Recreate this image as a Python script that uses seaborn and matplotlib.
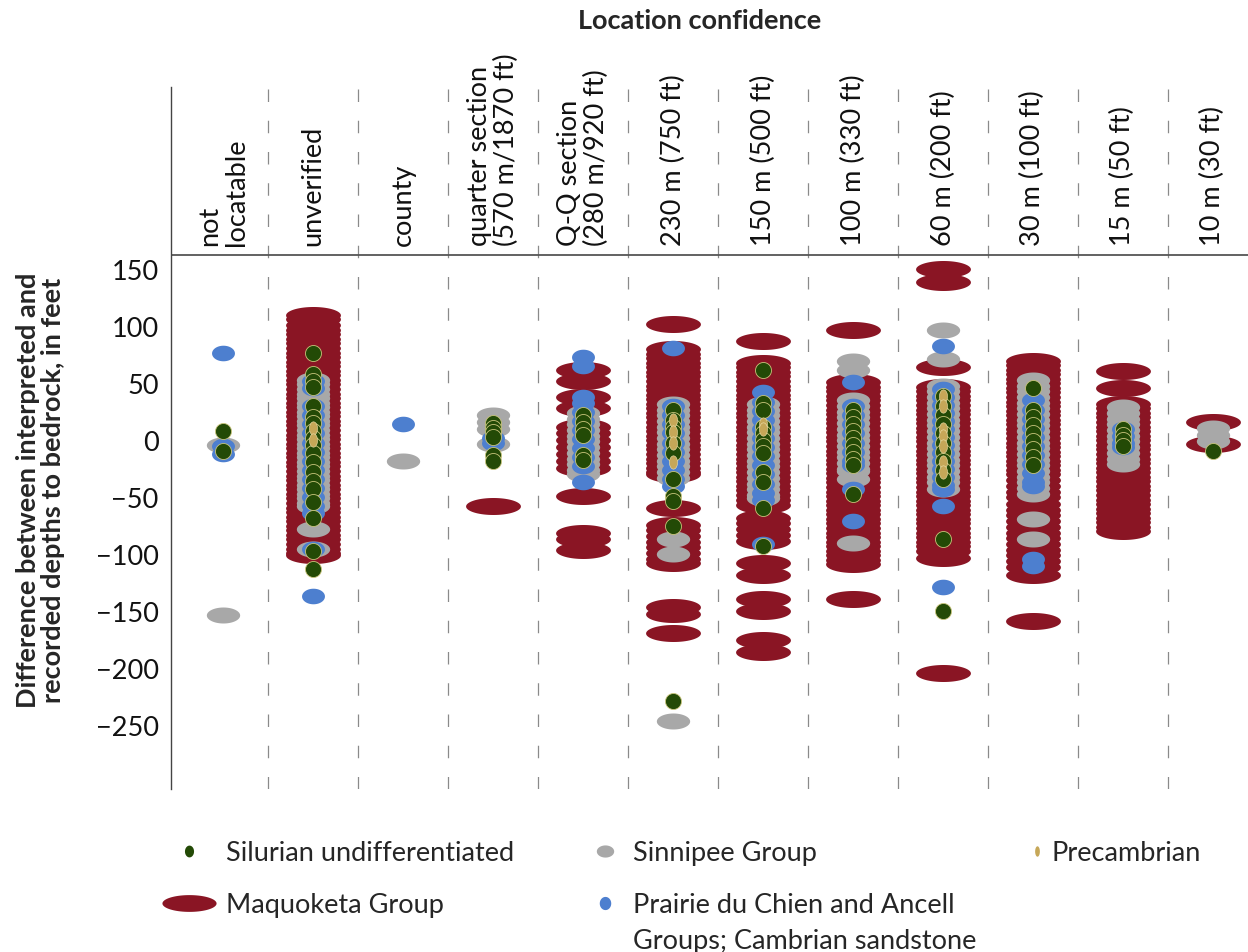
import numpy as np
import pandas as pd
import matplotlib
matplotlib.use("Agg")
import matplotlib.pyplot as plt
from matplotlib.path import Path
from matplotlib.lines import Line2D
import seaborn as sns

# ---------------------------------------------------------------- data
location_keys = ["not locatable", "unverified", "county", "quarter section",
                 "Q-Q section", "230 m", "150 m", "100 m", "60 m", "30 m",
                 "15 m", "10 m"]
header_labels = ["not\nlocatable", "unverified", "county",
                 "quarter section\n(570 m/1870 ft)", "Q-Q section\n(280 m/920 ft)",
                 "230 m (750 ft)", "150 m (500 ft)", "100 m (330 ft)",
                 "60 m (200 ft)", "30 m (100 ft)", "15 m (50 ft)", "10 m (30 ft)"]
y_ticks = [150, 100, 50, 0, -50, -100, -150, -200, -250]

# Difference between interpreted and recorded depth to bedrock (feet),
# one list per location-confidence class, for each bedrock unit.
maquoketa = [
    [],
    [110, 106, 101, 97, 93, 89, 85, 81, 77, 73, 69, 65, 61, 57, 53, 49, 45, 41,
     37, 33, 29, 25, 21, 17, 13, 9, 5, 1, -3, -7, -11, -15, -19, -23, -27,
     -31, -35, -39, -43, -47, -51, -55, -59, -63, -67, -71, -75, -79, -83,
     -87, -91, -95, -99, -101],
    [],
    [-58],
    [62, 52, 38, 28, 12, 6, 0, -6, -12, -18, -24, -49, -81, -87, -96],
    [102, 80, 76, 72, 68, 64, 60, 56, 52, 48, 44, 40, 36, 32, 28, 24, 20, 16,
     12, 8, 4, 0, -4, -8, -12, -16, -20, -24, -28, -30, -59, -74, -79, -84,
     -89, -94, -99, -104, -108, -146, -152, -169],
    [87, 68, 64, 60, 56, 52, 48, 44, 40, 36, 32, 28, 24, 20, 16, 12, 8, 4, 0,
     -4, -8, -12, -16, -20, -24, -28, -32, -36, -40, -44, -48, -52, -57, -68,
     -73, -78, -83, -88, -108, -118, -139, -150, -175, -186],
    [97, 51, 47, 43, 39, 35, 31, 27, 23, 19, 15, 11, 7, 3, -1, -5, -9, -13,
     -17, -21, -25, -29, -33, -37, -41, -45, -49, -53, -57, -61, -65, -69,
     -73, -77, -81, -85, -89, -93, -97, -101, -105, -109, -139],
    [150, 139, 64, 47, 43, 39, 35, 31, 27, 23, 19, 15, 11, 7, 3, -1, -5, -9,
     -13, -17, -21, -25, -29, -33, -37, -41, -45, -49, -53, -57, -61, -65,
     -69, -73, -77, -81, -85, -89, -93, -97, -103, -204],
    [70, 66, 62, 58, 54, 50, 46, 42, 38, 34, 30, 26, 22, 18, 14, 10, 6, 2, -2,
     -6, -10, -14, -18, -22, -26, -30, -35, -40, -45, -50, -56, -61, -66, -71,
     -76, -81, -86, -91, -96, -101, -106, -111, -118, -159],
    [61, 46, 32, 28, 24, 20, 16, 12, 8, 4, 0, -4, -8, -12, -16, -20, -24, -28,
     -32, -36, -40, -44, -48, -52, -56, -60, -64, -68, -72, -76, -80],
    [16, -3],
]
sinnipee = [
    [-4, -153],
    [53, 49, 45, 41, 37, 33, 29, 25, 21, 17, 13, 9, 5, 1, -3, -7, -11, -15,
     -19, -23, -27, -31, -35, -39, -43, -47, -51, -55, -58, -78, -95],
    [-18],
    [22, 16, 10, -3],
    [24, 19, 14, 9, 4, -1, -6, -11, -16, -21, -26, -30],
    [32, 27, 22, 17, 12, 7, 2, -3, -8, -13, -18, -23, -28, -33, -87, -100, -246],
    [32, 27, 22, 17, 12, 7, 2, -3, -8, -13, -18, -23, -28, -33, -38, -43, -48,
     -51],
    [70, 62, 35, 30, 25, 20, 15, 10, 5, 0, -5, -10, -15, -20, -25, -27, -34,
     -90],
    [97, 71, 48, 43, 38, 33, 28, 23, 18, 13, 8, 3, -2, -7, -12, -17, -22, -27,
     -32, -37, -43],
    [53, 48, 43, 38, 33, 28, 23, 18, 13, 8, 3, -2, -7, -12, -17, -22, -27, -32,
     -37, -42, -47, -69, -87],
    [29, 24, 19, 14, 9, 4, -1, -6, -11, -16, -21],
    [11, 5, -1],
]
prairie = [
    [77, -5, -12],
    [52, 46, 30, 22, 14, 6, -2, -10, -18, -26, -34, -42, -50, -58, -64, -95,
     -137],
    [14],
    [2, -2],
    [73, 65, 38, 33, 25, 17, 9, 1, -7, -15, -23, -37],
    [81, 30, 22, 14, 6, -2, -10, -18, -26, -34, -40],
    [42, 34, 26, 18, 10, 2, -6, -14, -22, -30, -38, -46, -52, -91],
    [51, 30, 22, 14, 6, -2, -10, -18, -22, -43, -71],
    [83, 45, 38, 31, 24, 17, 10, 3, -4, -11, -18, -25, -32, -39, -43, -58,
     -129],
    [35, 27, 19, 11, 3, -5, -13, -21, -29, -37, -40, -104, -110],
    [10, 4, -2, -6],
    [],
]
silurian = [
    [8, -9],
    [77, 58, 52, 47, 30, 20, 15, 8, 2, -4, -11, -19, -28, -36, -43, -54, -68,
     -97, -113],
    [],
    [15, 11, 7, 3, -13, -18],
    [22, 16, 10, 5, -13, -17],
    [27, 18, 12, 7, -2, -11, -34, -49, -53, -75, -229],
    [62, 33, 27, 12, 6, 0, -5, -11, -28, -37, -59, -93],
    [27, 20, 14, 8, 2, -4, -10, -16, -22, -47],
    [39, 30, 22, 14, 6, -2, -10, -18, -26, -34, -87, -150],
    [46, 27, 20, 13, 6, -1, -8, -15, -22],
    [10, 5, 0, -5],
    [-9],
]
precambrian = [
    [], [11, 0], [], [], [], [18, 7, -2, -19], [14, 10], [],
    [39, 30, 10, 4, -5, -19, -28], [], [], [],
]

# ---------------------------------------------------------------- style
FONT = ["Lato", "DejaVu Sans"]
sns.set_theme(style="white")
plt.rcParams["font.family"] = FONT
FS = 19.5

C_MAQ = "#8a1524"
C_SIN = "#a8a8a8"
C_PRA = "#4d7fcf"
C_SIL = "#234a06"
C_PRE = "#c6a758"


def ellipse(aspect):
    """Closed elliptical marker path; aspect = height / width."""
    t = np.linspace(0, 2 * np.pi, 73)
    verts = np.column_stack([np.cos(t), aspect * np.sin(t)])
    return Path(verts, closed=True)


M_MAQ = ellipse(0.31)
M_SIN = ellipse(0.48)
M_PRA = ellipse(0.68)
M_SIL = ellipse(1.0)
M_PRE = ellipse(1.65)


def long_frame(values):
    rows = [(key, v) for key, vals in zip(location_keys, values) for v in vals]
    return pd.DataFrame(rows, columns=["location", "difference"])


fig = plt.figure(figsize=(12.48, 9.53), dpi=100)
ax = fig.add_axes([171 / 1248, 1 - 790 / 953, 1 - 171 / 1248, (790 - 88) / 953])

layers = [
    (maquoketa, C_MAQ, M_MAQ, 39.5, 0.0, C_MAQ),
    (sinnipee, C_SIN, M_SIN, 24.0, 0.0, C_SIN),
    (prairie, C_PRA, M_PRA, 16.5, 0.0, C_PRA),
    (silurian, C_SIL, M_SIL, 11.5, 0.6, "#c9c57c"),
    (precambrian, C_PRE, M_PRE, 9.6, 0.4, "#efe3b0"),
]
for z, (vals, col, mk, sz, lw, ec) in enumerate(layers):
    sns.stripplot(data=long_frame(vals), x="location", y="difference",
                  order=location_keys, jitter=False, color=col, marker=mk,
                  size=sz, linewidth=lw, edgecolor=ec, ax=ax, legend=False,
                  zorder=3 + z)

ax.set_xlim(-0.58, 11.39)
ax.set_ylim(-306, 310)
ax.set_xticks([])
ax.set_xlabel("")
ax.set_ylabel("")
ax.set_yticks(y_ticks)
ax.tick_params(axis="y", length=0, pad=9, labelsize=FS, colors="#111111")
for side in ["top", "right", "bottom"]:
    ax.spines[side].set_visible(False)
ax.spines["left"].set_color("#444444")
ax.spines["left"].set_linewidth(1.0)

# class separators and header rule
for k in range(len(location_keys) - 1):
    ax.axvline(k + 0.5, color="#8a8a8a", lw=0.9, ls=(0, (10, 15)), zorder=1)
ax.axhline(163, color="#555555", lw=1.3, zorder=2)

for k, lab in enumerate(header_labels):
    ax.text(k, 171, lab, rotation=90, ha="center", va="bottom",
            multialignment="left", fontsize=FS, color="#111111",
            linespacing=1.1)

fig.text(700 / 1248, 1 - 21 / 953, "Location confidence", ha="center",
         va="center", fontsize=FS, fontweight="bold")
fig.text(41 / 1248, 1 - 490 / 953,
         "Difference between interpreted and\nrecorded depths to bedrock, in feet",
         rotation=90, ha="center", va="center", fontsize=FS,
         fontweight="bold", linespacing=1.05)


# ---------------------------------------------------------------- legend
def handle(mk, size, color, ec="none", ew=0.0):
    return Line2D([], [], linestyle="none", marker=mk, markersize=size,
                  markerfacecolor=color, markeredgecolor=ec, markeredgewidth=ew)


common = dict(frameon=False, fontsize=FS, borderpad=0, borderaxespad=0,
              handletextpad=0.33, labelspacing=1.0, loc="upper left")
fig.legend(handles=[handle(ellipse(1.3), 8.5, C_SIL), handle(M_MAQ, 39, C_MAQ)],
           labels=["Silurian undifferentiated", "Maquoketa Group"],
           bbox_to_anchor=(162 / 1248, 1 - 841 / 953), handlelength=2.03,
           **common)
leg2 = fig.legend(handles=[handle(ellipse(0.7), 12.5, C_SIN),
                           handle(ellipse(1.15), 9.5, C_PRA)],
                  labels=["Sinnipee Group", "Prairie du Chien and Ancell"],
                  bbox_to_anchor=(585 / 1248, 1 - 841 / 953), handlelength=1.44,
                  **common)
fig.legend(handles=[handle(ellipse(2.2), 7.5, C_PRE)], labels=["Precambrian"],
           bbox_to_anchor=(1030 / 1248, 1 - 841 / 953), handlelength=0.48,
           **common)

# second line of the two-line legend entry, placed under its first line
fig.canvas.draw()
rend = fig.canvas.get_renderer()
bb = leg2.get_texts()[1].get_window_extent(rend)
fig.text(bb.x0 / fig.bbox.width, (bb.y0 - 36 + bb.height / 2) / fig.bbox.height,
         "Groups; Cambrian sandstone", ha="left", va="center", fontsize=FS)

fig.savefig("out.png", dpi=100)
